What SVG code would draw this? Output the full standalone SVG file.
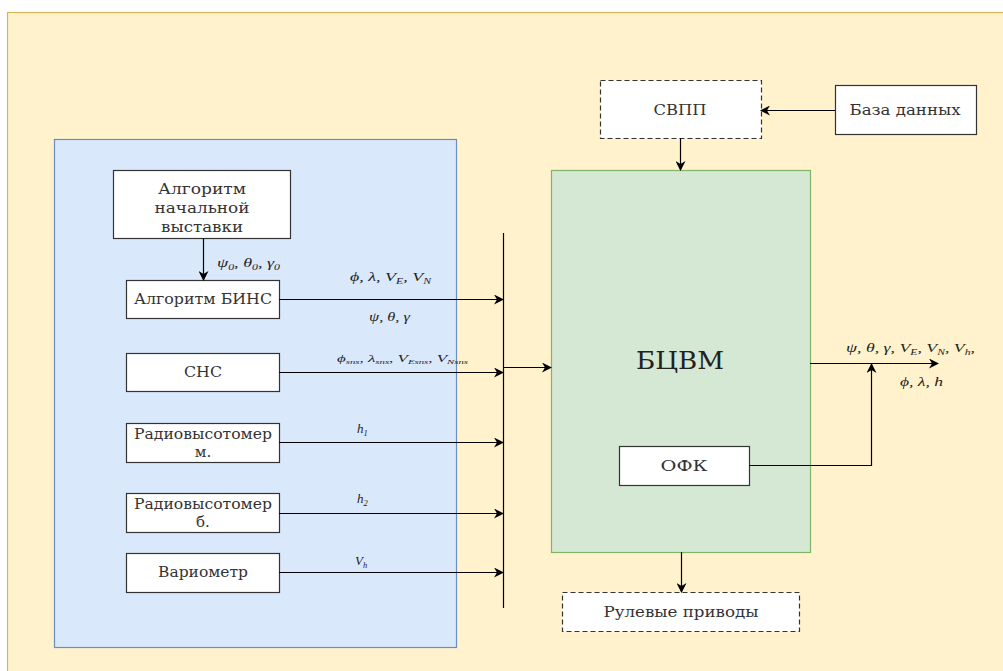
<svg xmlns="http://www.w3.org/2000/svg" width="1003" height="671" viewBox="0 0 1003 671">
<defs>
<marker id="ah" viewBox="0 0 10 10" refX="9" refY="5" markerWidth="10" markerHeight="10" markerUnits="userSpaceOnUse" orient="auto">
<path d="M0,0 L10,5 L0,10 L3,5 z" fill="#000"/>
</marker>
<style>
.box{fill:#fff;stroke:#333;stroke-width:1.2}
.dash{fill:#fff;stroke:#333;stroke-width:1.2;stroke-dasharray:5 3}
.t{font-family:"DejaVu Serif","Liberation Serif",serif;font-size:15px;fill:#333;text-anchor:middle}
.m{font-family:"Liberation Serif","Times New Roman",serif;font-size:13px;font-style:italic;fill:#222}
.s{font-size:8.5px}
.ln{stroke:#000;stroke-width:1.2;fill:none}
.la{stroke:#000;stroke-width:1.2;fill:none;marker-end:url(#ah)}
</style>
</defs>
<rect x="0" y="0" width="1003" height="671" fill="#fff"/>
<rect id="frame" x="7.5" y="12.5" width="1000" height="670" fill="#fff2cc" stroke="#d6b656" stroke-width="1.2"/>
<g id="sensors-group"><rect x="54.5" y="139.5" width="402" height="508" fill="#dae8fc" stroke="#6c8ebf" stroke-width="1.2"/></g>
<g id="bcvm"><rect x="551.5" y="170.5" width="259" height="382" fill="#d5e8d4" stroke="#82b366" stroke-width="1.2"/>
<text x="680" y="369" textLength="88" lengthAdjust="spacingAndGlyphs" style="font-family:'DejaVu Serif','Liberation Serif',serif;font-size:24px;fill:#222;text-anchor:middle">БЦВМ</text></g>
<g id="init"><rect class="box" x="113.5" y="170.5" width="177" height="68"/>
<text class="t" x="202" y="194" textLength="88" lengthAdjust="spacingAndGlyphs">Алгоритм</text><text class="t" x="202" y="213" textLength="95" lengthAdjust="spacingAndGlyphs">начальной</text><text class="t" x="202" y="232" textLength="82" lengthAdjust="spacingAndGlyphs">выставки</text></g>
<g id="bins"><rect class="box" x="126.5" y="280.5" width="153" height="38"/><text class="t" x="203" y="304" textLength="138" lengthAdjust="spacingAndGlyphs">Алгоритм БИНС</text></g>
<g id="sns"><rect class="box" x="126.5" y="353.5" width="153" height="38"/><text class="t" x="203" y="377" textLength="38" lengthAdjust="spacingAndGlyphs">СНС</text></g>
<g id="rvm"><rect class="box" x="126.5" y="423.5" width="153" height="39"/><text class="t" x="203" y="439" textLength="138" lengthAdjust="spacingAndGlyphs">Радиовысотомер</text><text class="t" x="203" y="457">м.</text></g>
<g id="rvb"><rect class="box" x="126.5" y="493.5" width="153" height="39"/><text class="t" x="203" y="509" textLength="138" lengthAdjust="spacingAndGlyphs">Радиовысотомер</text><text class="t" x="203" y="527">б.</text></g>
<g id="vario"><rect class="box" x="126.5" y="553.5" width="153" height="39"/><text class="t" x="203" y="577" textLength="90" lengthAdjust="spacingAndGlyphs">Вариометр</text></g>
<g id="svpp"><rect class="dash" x="600.5" y="80.5" width="161" height="58"/><text class="t" x="680" y="115" textLength="53" lengthAdjust="spacingAndGlyphs">СВПП</text></g>
<g id="db"><rect class="box" x="835.5" y="85.5" width="141" height="49"/><text class="t" x="905" y="115" textLength="111" lengthAdjust="spacingAndGlyphs">База данных</text></g>
<g id="ofk"><rect class="box" x="619.5" y="446.5" width="130" height="39"/><text class="t" x="684" y="471" textLength="47" lengthAdjust="spacingAndGlyphs">ОФК</text></g>
<g id="rul"><rect class="dash" x="562.5" y="592.5" width="237" height="39"/><text class="t" x="681" y="617" textLength="155" lengthAdjust="spacingAndGlyphs">Рулевые приводы</text></g>
<g id="connectors">
<line class="ln" x1="503.5" y1="233" x2="503.5" y2="608"/>
<line class="la" x1="203.5" y1="238" x2="203.5" y2="280"/>
<line class="la" x1="279" y1="299.5" x2="503" y2="299.5"/>
<line class="la" x1="279" y1="372.5" x2="503" y2="372.5"/>
<line class="la" x1="279" y1="442.5" x2="503" y2="442.5"/>
<line class="la" x1="279" y1="513.5" x2="503" y2="513.5"/>
<line class="la" x1="279" y1="572.5" x2="503" y2="572.5"/>
<line class="la" x1="503.5" y1="367.5" x2="551" y2="367.5"/>
<line class="la" x1="680.5" y1="138" x2="680.5" y2="170"/>
<line class="la" x1="835" y1="110.5" x2="761" y2="110.5"/>
<line class="la" x1="810" y1="363.5" x2="938" y2="363.5"/>
<polyline class="la" points="749,465.5 871.5,465.5 871.5,364"/>
<line class="la" x1="681.5" y1="552" x2="681.5" y2="592"/>
</g>
<g id="labels">
<text class="m" x="217" y="267" textLength="63" lengthAdjust="spacingAndGlyphs">ψ<tspan class="s" dy="3">0</tspan><tspan dy="-3">, θ</tspan><tspan class="s" dy="3">0</tspan><tspan dy="-3">, γ</tspan><tspan class="s" dy="3">0</tspan></text>
<text class="m" x="350" y="281" textLength="81" lengthAdjust="spacingAndGlyphs">ϕ, λ, V<tspan class="s" dy="3">E</tspan><tspan dy="-3">, V</tspan><tspan class="s" dy="3">N</tspan></text>
<text class="m" x="369" y="321" textLength="41" lengthAdjust="spacingAndGlyphs">ψ, θ, γ</text>
<text class="m" x="337" y="362" style="font-size:11px" textLength="131" lengthAdjust="spacingAndGlyphs">ϕ<tspan class="s" dy="2" style="font-size:7px">sns</tspan><tspan dy="-2">, λ</tspan><tspan class="s" dy="2" style="font-size:7px">sns</tspan><tspan dy="-2">, V</tspan><tspan class="s" dy="2" style="font-size:7px">Esns</tspan><tspan dy="-2">, V</tspan><tspan class="s" dy="2" style="font-size:7px">Nsns</tspan></text>
<text class="m" x="357" y="433">h<tspan class="s" dy="3">1</tspan></text>
<text class="m" x="357" y="503">h<tspan class="s" dy="3">2</tspan></text>
<text class="m" x="355" y="565">V<tspan class="s" dy="3">h</tspan></text>
<text class="m" x="846" y="352" textLength="129" lengthAdjust="spacingAndGlyphs">ψ, θ, γ, V<tspan class="s" dy="3">E</tspan><tspan dy="-3">, V</tspan><tspan class="s" dy="3">N</tspan><tspan dy="-3">, V</tspan><tspan class="s" dy="3">h</tspan><tspan dy="-3">,</tspan></text>
<text class="m" x="900" y="386" textLength="43" lengthAdjust="spacingAndGlyphs">ϕ, λ, h</text>
</g>
</svg>
